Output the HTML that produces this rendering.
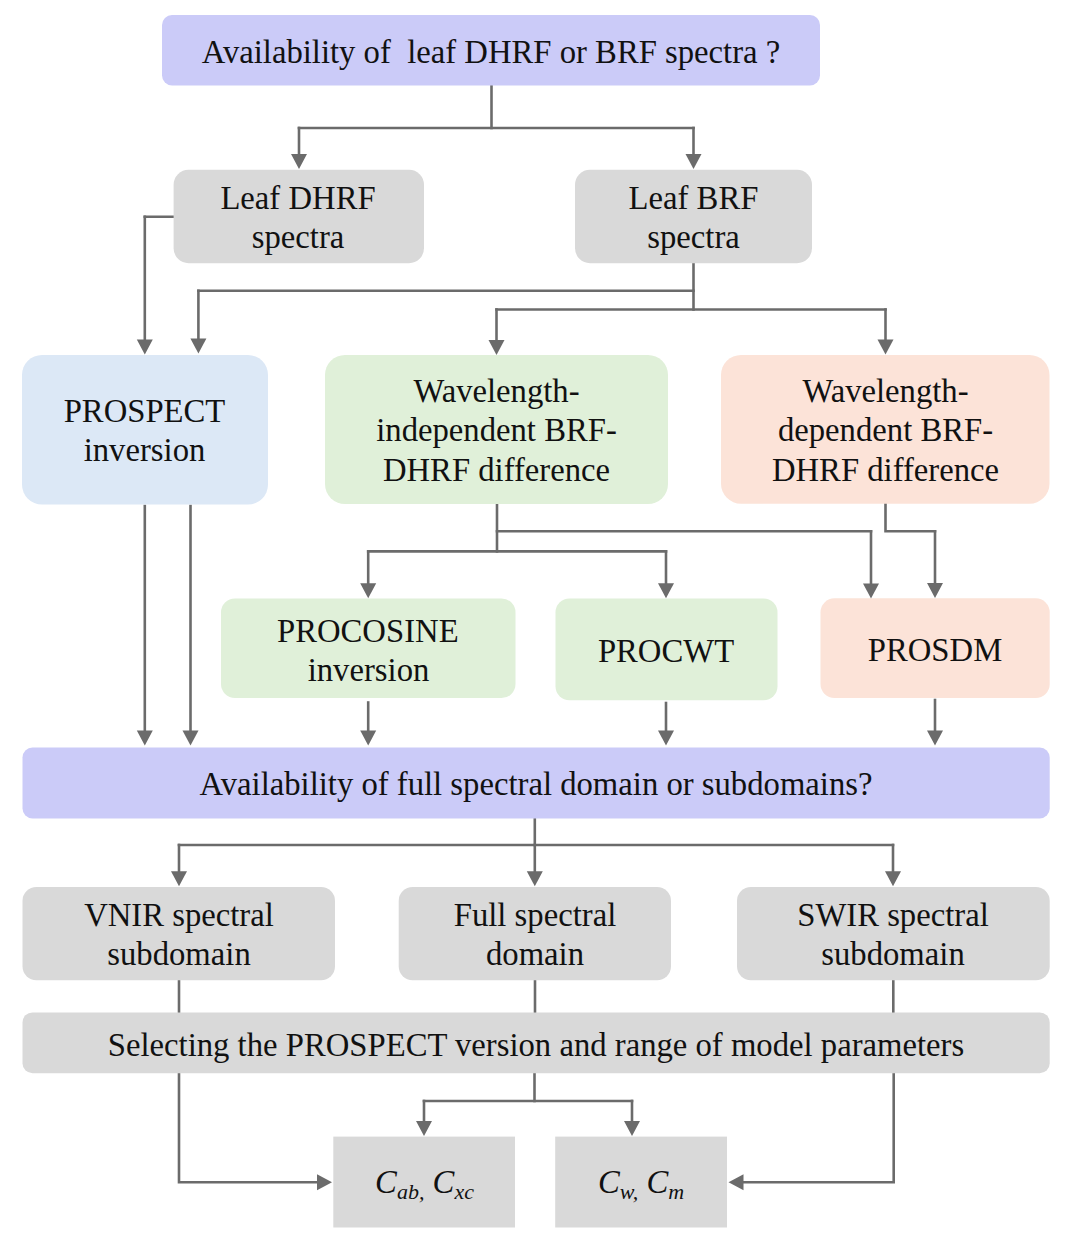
<!DOCTYPE html><html><head><meta charset="utf-8"><style>html,body{margin:0;padding:0;background:#fff;width:1080px;height:1254px;overflow:hidden}svg{display:block}text{font-family:"Liberation Serif",serif;font-size:32.7px;fill:#111111}</style></head><body>
<svg width="1080" height="1254" viewBox="0 0 1080 1254">
<g fill="none" stroke="#6b6b6b" stroke-width="2.6" stroke-linejoin="miter" stroke-linecap="square">
<polyline points="491.5,85 491.5,128"/>
<polyline points="299,128 693.5,128"/>
<polyline points="174,216.8 144.8,216.8"/>
<polyline points="693.5,263 693.5,309.5"/>
<polyline points="198.4,290.8 693.5,290.8"/>
<polyline points="496.5,309.5 885.5,309.5"/>
<polyline points="497,503 497,551.4"/>
<polyline points="497,531.3 871,531.3"/>
<polyline points="368.2,551.4 666,551.4"/>
<polyline points="885.5,503 885.5,531.3 935,531.3"/>
<polyline points="534.8,818 534.8,845"/>
<polyline points="179,845 893,845"/>
<polyline points="179,980 179,1013"/>
<polyline points="535,980 535,1013"/>
<polyline points="893.3,980 893.3,1013"/>
<polyline points="534.5,1073 534.5,1101"/>
<polyline points="424,1101 632,1101"/>
<polyline points="299,128 299,154"/>
<polyline points="693.5,128 693.5,154"/>
<polyline points="144.8,216.8 144.8,339.5"/>
<polyline points="198.4,290.8 198.4,338.4"/>
<polyline points="496.5,309.5 496.5,340"/>
<polyline points="885.5,309.5 885.5,339.5"/>
<polyline points="368.2,551.4 368.2,583.3"/>
<polyline points="666,551.4 666,583.3"/>
<polyline points="871,531.3 871,583.5"/>
<polyline points="935,531.3 935,583"/>
<polyline points="144.8,506 144.8,730.5"/>
<polyline points="190.5,506 190.5,730.5"/>
<polyline points="368.2,702.5 368.2,730.6"/>
<polyline points="666,703 666,730.6"/>
<polyline points="935,700 935,730.6"/>
<polyline points="179,845 179,871.3"/>
<polyline points="534.8,845 534.8,871.3"/>
<polyline points="893,845 893,871.3"/>
<polyline points="179,1073 179,1182.3 317,1182.3"/>
<polyline points="424,1101 424,1121"/>
<polyline points="632,1101 632,1121"/>
<polyline points="893.7,1073 893.7,1182.3 743.5,1182.3"/>
</g>
<rect x="162" y="15" width="658" height="70.4" rx="10" fill="#cbcbf8"/>
<rect x="173.6" y="169.8" width="250.4" height="93.4" rx="15" fill="#d9d9d9"/>
<rect x="575" y="169.8" width="237" height="93.4" rx="15" fill="#d9d9d9"/>
<rect x="22" y="355" width="246" height="149.5" rx="20" fill="#dce8f6"/>
<rect x="325" y="355" width="343" height="149" rx="20" fill="#e0f0d9"/>
<rect x="721" y="355" width="328.5" height="148.7" rx="20" fill="#fce3d8"/>
<rect x="221" y="598.5" width="294.5" height="99.5" rx="14" fill="#e0f0d9"/>
<rect x="555.5" y="598.5" width="222" height="101.8" rx="14" fill="#e0f0d9"/>
<rect x="820.5" y="598.3" width="229.2" height="99.7" rx="14" fill="#fce3d8"/>
<rect x="22.5" y="747.5" width="1027.2" height="71" rx="10" fill="#cbcbf8"/>
<rect x="22.5" y="887" width="312.5" height="93.3" rx="14" fill="#d9d9d9"/>
<rect x="398.7" y="887" width="272.3" height="93.3" rx="14" fill="#d9d9d9"/>
<rect x="737" y="887" width="312.7" height="93.3" rx="14" fill="#d9d9d9"/>
<rect x="22.5" y="1012.4" width="1027.2" height="60.8" rx="10" fill="#d9d9d9"/>
<rect x="333.3" y="1136.6" width="181.7" height="90.9" rx="0" fill="#d9d9d9"/>
<rect x="555.2" y="1136.6" width="171.8" height="90.9" rx="0" fill="#d9d9d9"/>
<g fill="#6b6b6b">
<polygon points="299,169 291,154 307,154"/>
<polygon points="693.5,169 685.5,154 701.5,154"/>
<polygon points="144.8,354.5 136.8,339.5 152.8,339.5"/>
<polygon points="198.4,353.4 190.4,338.4 206.4,338.4"/>
<polygon points="496.5,355 488.5,340 504.5,340"/>
<polygon points="885.5,354.5 877.5,339.5 893.5,339.5"/>
<polygon points="368.2,598.3 360.2,583.3 376.2,583.3"/>
<polygon points="666,598.3 658,583.3 674,583.3"/>
<polygon points="871,598.5 863,583.5 879,583.5"/>
<polygon points="935,598 927,583 943,583"/>
<polygon points="144.8,745.5 136.8,730.5 152.8,730.5"/>
<polygon points="190.5,745.5 182.5,730.5 198.5,730.5"/>
<polygon points="368.2,745.6 360.2,730.6 376.2,730.6"/>
<polygon points="666,745.6 658,730.6 674,730.6"/>
<polygon points="935,745.6 927,730.6 943,730.6"/>
<polygon points="179,886.3 171,871.3 187,871.3"/>
<polygon points="534.8,886.3 526.8,871.3 542.8,871.3"/>
<polygon points="893,886.3 885,871.3 901,871.3"/>
<polygon points="332,1182.3 317,1190.3 317,1174.3"/>
<polygon points="424,1136 416,1121 432,1121"/>
<polygon points="632,1136 624,1121 640,1121"/>
<polygon points="728.5,1182.3 743.5,1174.3 743.5,1190.3"/>
</g>
<text x="491" y="63" text-anchor="middle">Availability of&#160; leaf DHRF or BRF spectra ?</text>
<text x="298" y="209" text-anchor="middle">Leaf DHRF</text>
<text x="298" y="248" text-anchor="middle">spectra</text>
<text x="693.5" y="209" text-anchor="middle">Leaf BRF</text>
<text x="693.5" y="248" text-anchor="middle">spectra</text>
<text x="144.5" y="421.8" text-anchor="middle">PROSPECT</text>
<text x="144.5" y="460.5" text-anchor="middle">inversion</text>
<text x="496.5" y="402" text-anchor="middle">Wavelength-</text>
<text x="496.5" y="441.4" text-anchor="middle">independent BRF-</text>
<text x="496.5" y="480.8" text-anchor="middle">DHRF difference</text>
<text x="885.5" y="402" text-anchor="middle">Wavelength-</text>
<text x="885.5" y="441.4" text-anchor="middle">dependent BRF-</text>
<text x="885.5" y="480.8" text-anchor="middle">DHRF difference</text>
<text x="367.8" y="641.6" text-anchor="middle">PROCOSINE</text>
<text x="368.5" y="680.6" text-anchor="middle">inversion</text>
<text x="666" y="662.4" text-anchor="middle">PROCWT</text>
<text x="935" y="661.4" text-anchor="middle">PROSDM</text>
<text x="536" y="795" text-anchor="middle">Availability of full spectral domain or subdomains?</text>
<text x="179" y="926" text-anchor="middle">VNIR spectral</text>
<text x="179" y="965.2" text-anchor="middle">subdomain</text>
<text x="535" y="926" text-anchor="middle">Full spectral</text>
<text x="535" y="965.2" text-anchor="middle">domain</text>
<text x="893" y="926" text-anchor="middle">SWIR spectral</text>
<text x="893" y="965.2" text-anchor="middle">subdomain</text>
<text x="536" y="1055.5" text-anchor="middle">Selecting the PROSPECT version and range of model parameters</text>
<text x="424.5" y="1193" text-anchor="middle" font-style="italic"><tspan>C</tspan><tspan font-size="22" dy="6">ab,</tspan><tspan dy="-6"> C</tspan><tspan font-size="22" dy="6">xc</tspan></text>
<text x="641" y="1193" text-anchor="middle" font-style="italic"><tspan>C</tspan><tspan font-size="22" dy="6">w,</tspan><tspan dy="-6"> C</tspan><tspan font-size="22" dy="6">m</tspan></text>
</svg></body></html>
